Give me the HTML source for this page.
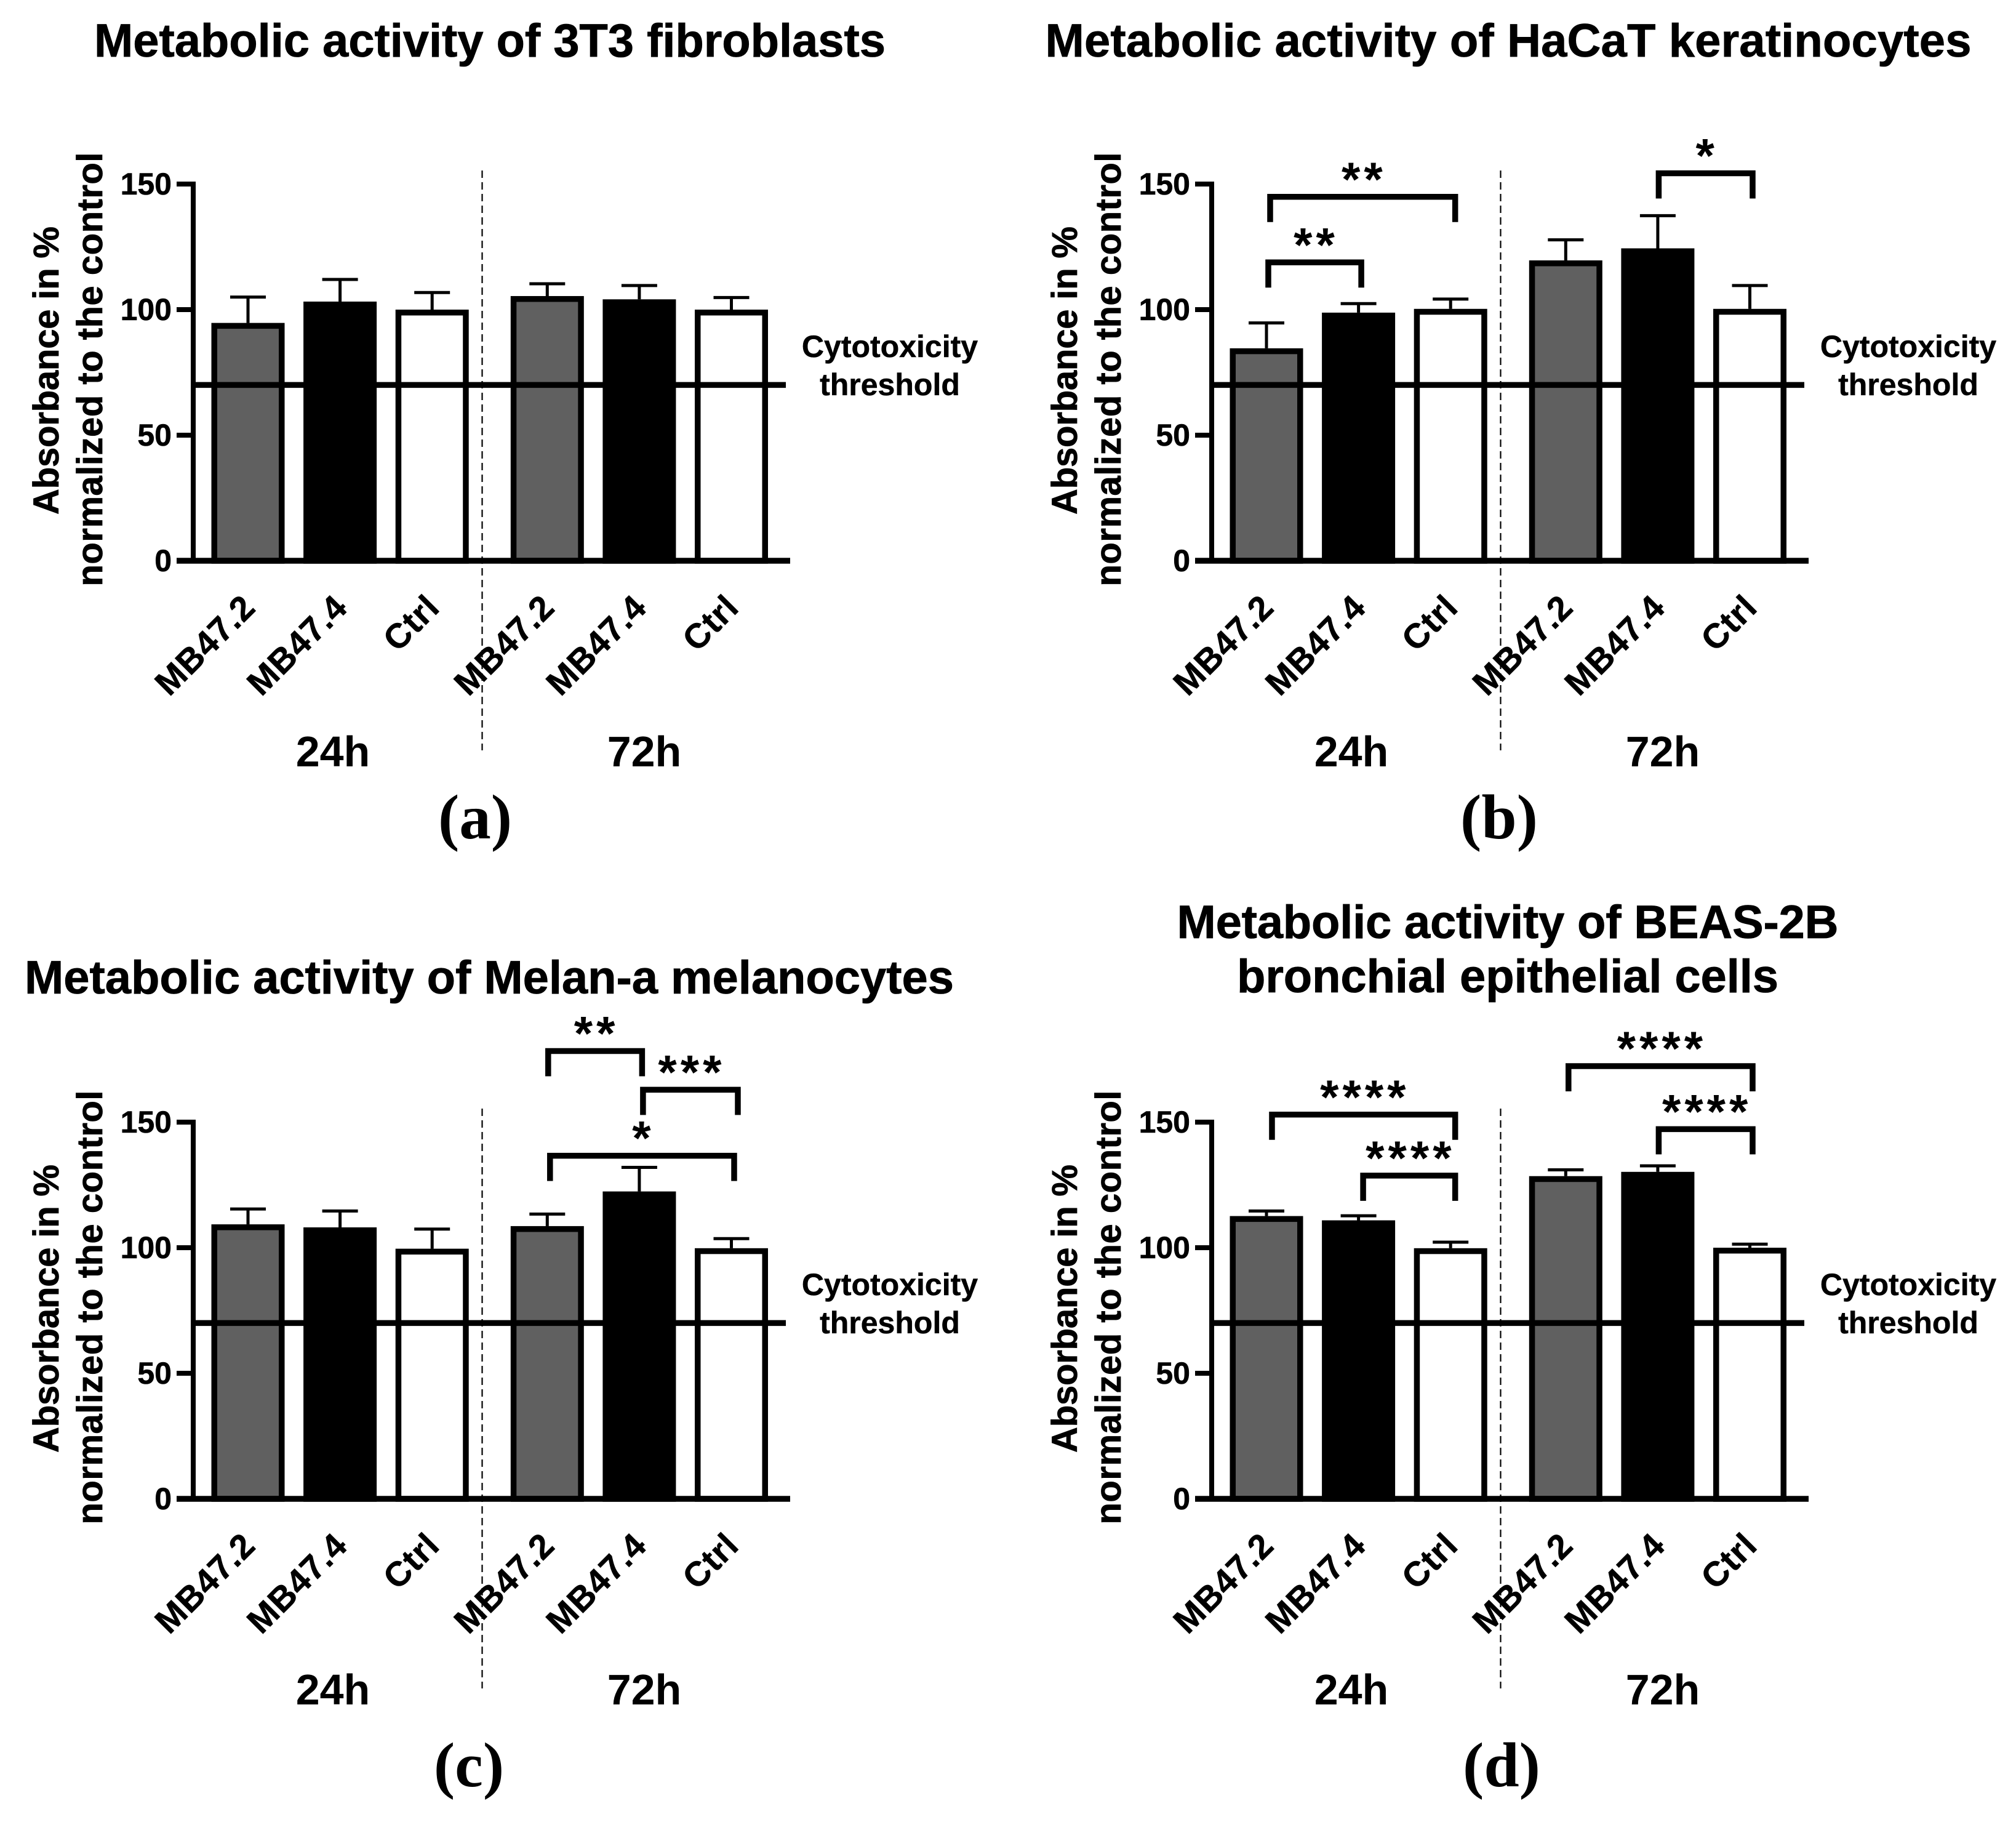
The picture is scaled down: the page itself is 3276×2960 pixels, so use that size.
<!DOCTYPE html>
<html lang="en">
<head>
<meta charset="utf-8">
<title>Metabolic activity charts</title>
<style>
html,body{margin:0;padding:0;background:#fff;}
svg{display:block;}
text{font-family:"Liberation Sans",Arial,sans-serif;font-weight:700;fill:#000;}
.title{font-size:76px;text-anchor:middle;stroke:#000;stroke-width:0.8px;}
.ytitle{font-size:58px;text-anchor:middle;stroke:#000;stroke-width:0.8px;}
.tick{font-size:50px;text-anchor:end;stroke:#000;stroke-width:0.6px;}
.cat{font-size:56px;text-anchor:end;stroke:#000;stroke-width:0.6px;letter-spacing:1px;}
.group{font-size:70px;text-anchor:middle;}
.thr{font-size:50px;text-anchor:middle;stroke:#000;stroke-width:0.5px;}
.letter{font-family:"Liberation Serif",serif;font-size:103px;text-anchor:middle;}
.stars{font-size:78px;text-anchor:middle;letter-spacing:6px;}
</style>
</head>
<body>
<svg xmlns="http://www.w3.org/2000/svg" width="3276" height="2960" viewBox="0 0 3276 2960">
<rect x="0" y="0" width="3276" height="2960" fill="#fff"/>

<text class="title" x="796" y="92" textLength="1286" lengthAdjust="spacing">Metabolic activity of 3T3 fibroblasts</text>
<text class="title" x="2451" y="92" textLength="1505" lengthAdjust="spacing">Metabolic activity of HaCaT keratinocytes</text>
<text class="title" x="795" y="1614" textLength="1510" lengthAdjust="spacing">Metabolic activity of Melan-a melanocytes</text>
<text class="title" x="2450" y="1524" textLength="1075" lengthAdjust="spacing">Metabolic activity of BEAS-2B</text>
<text class="title" x="2450" y="1612" textLength="880" lengthAdjust="spacing">bronchial epithelial cells</text>

<text class="letter" x="772" y="1362">(a)</text>
<text class="letter" x="2436" y="1362">(b)</text>
<text class="letter" x="762" y="2902">(c)</text>
<text class="letter" x="2440" y="2902">(d)</text>

<g id="panel-a" transform="translate(0,0)">
  <text class="ytitle" transform="translate(95,602) rotate(-90)" textLength="468" lengthAdjust="spacing">Absorbance in %</text>
  <text class="ytitle" transform="translate(166,600) rotate(-90)" textLength="705" lengthAdjust="spacing">normalized to the control</text>
  <text class="thr" x="1446" y="580">Cytotoxicity</text>
  <text class="thr" x="1446" y="642">threshold</text>
  <text class="group" x="541" y="1245">24h</text>
  <text class="group" x="1047" y="1245">72h</text>
</g>
<g id="panel-b" transform="translate(1655,0)">
  <text class="ytitle" transform="translate(95,602) rotate(-90)" textLength="468" lengthAdjust="spacing">Absorbance in %</text>
  <text class="ytitle" transform="translate(166,600) rotate(-90)" textLength="705" lengthAdjust="spacing">normalized to the control</text>
  <text class="thr" x="1446" y="580">Cytotoxicity</text>
  <text class="thr" x="1446" y="642">threshold</text>
  <text class="group" x="541" y="1245">24h</text>
  <text class="group" x="1047" y="1245">72h</text>
</g>
<g id="panel-c" transform="translate(0,1524)">
  <text class="ytitle" transform="translate(95,602) rotate(-90)" textLength="468" lengthAdjust="spacing">Absorbance in %</text>
  <text class="ytitle" transform="translate(166,600) rotate(-90)" textLength="705" lengthAdjust="spacing">normalized to the control</text>
  <text class="thr" x="1446" y="580">Cytotoxicity</text>
  <text class="thr" x="1446" y="642">threshold</text>
  <text class="group" x="541" y="1245">24h</text>
  <text class="group" x="1047" y="1245">72h</text>
</g>
<g id="panel-d" transform="translate(1655,1524)">
  <text class="ytitle" transform="translate(95,602) rotate(-90)" textLength="468" lengthAdjust="spacing">Absorbance in %</text>
  <text class="ytitle" transform="translate(166,600) rotate(-90)" textLength="705" lengthAdjust="spacing">normalized to the control</text>
  <text class="thr" x="1446" y="580">Cytotoxicity</text>
  <text class="thr" x="1446" y="642">threshold</text>
  <text class="group" x="541" y="1245">24h</text>
  <text class="group" x="1047" y="1245">72h</text>
</g>
</svg>

<script>
var categories = ['MB47.2', 'MB47.4', 'Ctrl', 'MB47.2', 'MB47.4', 'Ctrl'];
var barKinds = ['gray', 'black', 'white', 'gray', 'black', 'white'];
var yTicks = [0, 50, 100, 150];
var thresholdValue = 70;

var meansA = [94.7, 103.2, 100, 105.4, 104.1, 100];
var upperA = [105, 112, 106.8, 110.3, 109.6, 104.8];
var meansB = [84.6, 98.8, 100.3, 119.6, 124.4, 100.3];
var upperB = [94.7, 102.4, 104.2, 127.8, 137.4, 109.6];
var meansC = [109.3, 108.1, 99.6, 108.6, 122.4, 99.8];
var upperC = [115.4, 114.6, 107.4, 113.4, 132, 103.6];
var meansD = [112.6, 110.9, 99.8, 128.5, 130.2, 100];
var upperD = [114.6, 112.7, 102.2, 131, 132.6, 101.4];

/* significance brackets: from-category, to-category, value level, star text */
var bracketsA = [];
var bracketsB = [[0.04, 2.05, 144.9, '**'], [0.02, 1.03, 118.8, '**'], [4.01, 5.03, 154.3, '*']];
var bracketsC = [[3.01, 4.03, 178.3, '**'], [4.04, 5.07, 162.9, '***'], [3.03, 5.03, 136.6, '*']];
var bracketsD = [[0.06, 2.05, 153, '****'], [1.05, 2.05, 128.7, '****'], [3.03, 5.03, 172.3, '****'], [4.01, 5.03, 147.2, '****']];

var NS = 'http://www.w3.org/2000/svg';

function xScale(i) {
  return 403 + 149.6 * i + (i >= 2.5 ? 37.5 : 0);
}
function yScale(v) {
  return 911 - 4.08 * v;
}
function mk(parent, tag, attrs) {
  var el = document.createElementNS(NS, tag);
  for (var k in attrs) { el.setAttribute(k, attrs[k]); }
  parent.appendChild(el);
  return el;
}

function drawPanel(id, means, upper, brackets) {
  var g = document.getElementById(id);
  var fills = { gray: '#606060', black: '#000', white: '#fff' };
  var i, el;

  for (i = 0; i < means.length; i++) {
    var cx = xScale(i);
    el = mk(g, 'line', { x1: cx, x2: cx, y1: yScale(means[i]), y2: yScale(upper[i]), stroke: '#000', 'stroke-width': 5 });
    
    
    el = mk(g, 'line', { x1: cx - 29, x2: cx + 29, y1: yScale(upper[i]), y2: yScale(upper[i]), stroke: '#000', 'stroke-width': 5 });
    
    
  }

  var barW = 119, sw = 9.5;
  for (i = 0; i < means.length; i++) {
    el = mk(g, 'rect', {
      x: xScale(i) - barW / 2 + sw / 2,
      y: yScale(means[i]) + sw / 2,
      width: barW - sw,
      height: yScale(0) - yScale(means[i]) - sw / 2,
      fill: fills[barKinds[i]],
      stroke: '#000',
      'stroke-width': sw
    });
    
    
  }

  el = mk(g, 'line', { x1: 314, x2: 1277, y1: yScale(thresholdValue), y2: yScale(thresholdValue), stroke: '#000', 'stroke-width': 9.5 });
  
  

  el = mk(g, 'line', { x1: 783.5, x2: 783.5, y1: 277, y2: 1219, stroke: '#000', 'stroke-width': 2.2, 'stroke-dasharray': '12 7' });
  
  

  el = mk(g, 'line', { x1: 314, x2: 314, y1: yScale(150) - 4, y2: yScale(0) + 4, stroke: '#000', 'stroke-width': 8 });
  
  

  el = mk(g, 'line', { x1: 287, x2: 1284, y1: yScale(0), y2: yScale(0), stroke: '#000', 'stroke-width': 9.5 });
  
  

  for (i = 0; i < yTicks.length; i++) {
    var ty = yScale(yTicks[i]);
    el = mk(g, 'line', { x1: 287, x2: 314, y1: ty, y2: ty, stroke: '#000', 'stroke-width': 8 });
    
    
    el = mk(g, 'text', { 'class': 'tick', x: 279, y: ty + 17 });
    el.textContent = String(yTicks[i]);
    
    
  }

  for (i = 0; i < categories.length; i++) {
    var lx = xScale(i) + 15, ly = 990;
    el = mk(g, 'text', { 'class': 'cat', x: 0, y: 0, transform: 'translate(' + lx + ',' + ly + ') rotate(-45)' });
    el.textContent = categories[i];
    
    
  }

  for (i = 0; i < brackets.length; i++) {
    var b = brackets[i];
    var xa = xScale(b[0]), xb = xScale(b[1]), by = yScale(b[2]);
    el = mk(g, 'path', { d: 'M' + xa + ' ' + (by + 41) + 'V' + by + 'H' + xb + 'V' + (by + 41), fill: 'none', stroke: '#000', 'stroke-width': 9.5, 'stroke-linejoin': 'miter' });
    
    
    el = mk(g, 'text', { 'class': 'stars', x: (xa + xb) / 2 + 2, y: by - 2 });
    el.textContent = b[3];
    
    
  }
}

drawPanel('panel-a', meansA, upperA, bracketsA);
drawPanel('panel-b', meansB, upperB, bracketsB);
drawPanel('panel-c', meansC, upperC, bracketsC);
drawPanel('panel-d', meansD, upperD, bracketsD);
</script>
</body>
</html>
